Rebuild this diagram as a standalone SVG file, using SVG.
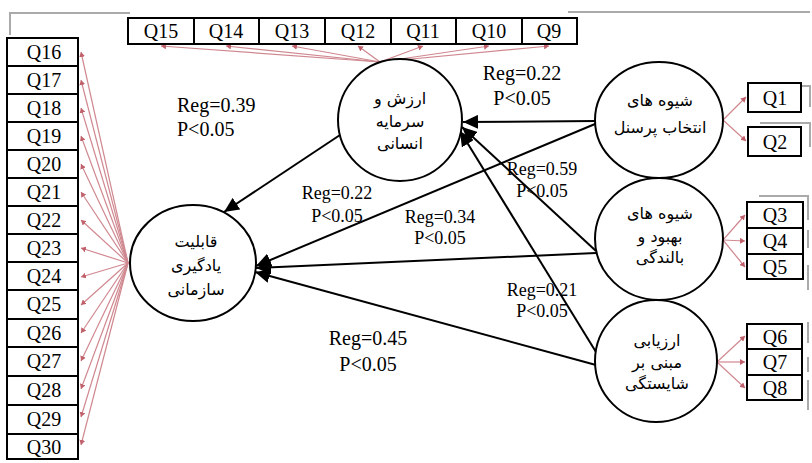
<svg xmlns="http://www.w3.org/2000/svg" width="812" height="463" viewBox="0 0 812 463">
<style>
.box{fill:#fff;stroke:#000;stroke-width:2}
.q{font-family:"Liberation Serif",serif;font-size:20px;text-anchor:middle;fill:#000}
.reg{font-family:"Liberation Serif",serif;font-size:18px;text-anchor:middle;fill:#000}
.reg20{font-family:"Liberation Serif",serif;font-size:20px;fill:#000}
.fa{font-family:"DejaVu Sans",sans-serif;font-size:16px;text-anchor:middle;fill:#000}
.node{fill:#fff;stroke:#000;stroke-width:2}
.arr{stroke:#000;stroke-width:2;fill:none;marker-end:url(#ah)}
.red{stroke:#d08890;stroke-width:1.2;fill:none;marker-end:url(#rh)}
.gray{stroke:#aaa;stroke-width:2;fill:none}
</style>
<defs>
<marker id="ah" markerUnits="userSpaceOnUse" markerWidth="18" markerHeight="14" refX="15" refY="7" orient="auto"><path d="M0,0 L15,7 L0,14 z" fill="#000"/></marker>
<marker id="rh" markerUnits="userSpaceOnUse" markerWidth="6" markerHeight="6" refX="5" refY="3" orient="auto"><path d="M0,0 L5,3 L0,6 z" fill="#c0606a"/></marker>
</defs>

<g id="frame">
<path class="gray" d="M10,35 V13 H130"/>
<path class="gray" d="M568,12 H810"/>
<path class="gray" d="M801,86 H810 V107"/>
<path class="gray" d="M760,123 H810 V147"/>
<path class="gray" d="M759,196 H808 V220"/>
<path class="gray" d="M808,230 V248 M808,265 V290"/>
<path class="gray" d="M808,322 V343 M808,357 V372 M808,380 V410"/>
</g>

<g id="connectors">
<g id="indicator-links">
<line class="red" x1="128" y1="263" x2="81" y2="52"/>
<line class="red" x1="128" y1="263" x2="81" y2="80"/>
<line class="red" x1="128" y1="263" x2="81" y2="108"/>
<line class="red" x1="128" y1="263" x2="81" y2="136"/>
<line class="red" x1="128" y1="263" x2="81" y2="164"/>
<line class="red" x1="128" y1="263" x2="81" y2="192"/>
<line class="red" x1="128" y1="263" x2="81" y2="220"/>
<line class="red" x1="128" y1="263" x2="81" y2="248"/>
<line class="red" x1="128" y1="263" x2="81" y2="277"/>
<line class="red" x1="128" y1="263" x2="81" y2="305"/>
<line class="red" x1="128" y1="263" x2="81" y2="333"/>
<line class="red" x1="128" y1="263" x2="81" y2="361"/>
<line class="red" x1="128" y1="263" x2="81" y2="389"/>
<line class="red" x1="128" y1="263" x2="81" y2="417"/>
<line class="red" x1="128" y1="263" x2="81" y2="445"/>
<line class="red" x1="380" y1="62" x2="161" y2="46"/>
<line class="red" x1="380" y1="62" x2="226" y2="46"/>
<line class="red" x1="380" y1="62" x2="292" y2="46"/>
<line class="red" x1="380" y1="62" x2="358" y2="46"/>
<line class="red" x1="380" y1="62" x2="423" y2="46"/>
<line class="red" x1="380" y1="62" x2="489" y2="46"/>
<line class="red" x1="380" y1="62" x2="549" y2="46"/>
<line class="red" x1="723" y1="120" x2="746" y2="97"/>
<line class="red" x1="723" y1="120" x2="746" y2="141"/>
<line class="red" x1="723" y1="240" x2="745" y2="215"/>
<line class="red" x1="723" y1="240" x2="745" y2="241"/>
<line class="red" x1="723" y1="240" x2="745" y2="267"/>
<line class="red" x1="717" y1="362" x2="745" y2="336"/>
<line class="red" x1="717" y1="362" x2="745" y2="362"/>
<line class="red" x1="717" y1="362" x2="745" y2="388"/>
</g>
<g id="paths">
<line class="arr" x1="340" y1="135" x2="224" y2="212"/>
<line class="arr" x1="596" y1="121" x2="463" y2="122"/>
<line class="arr" x1="595" y1="124" x2="256" y2="266"/>
<line class="arr" x1="596" y1="251" x2="462" y2="127"/>
<line class="arr" x1="596" y1="352" x2="460" y2="131"/>
<line class="arr" x1="596" y1="253" x2="256" y2="268"/>
<line class="arr" x1="596" y1="365" x2="255" y2="272"/>
</g>
</g>

<g id="labels">
<text class="reg20" x="177" y="112">Reg=0.39</text>
<text class="reg20" x="177" y="136">P&lt;0.05</text>
<text class="reg20" x="522" y="80" text-anchor="middle">Reg=0.22</text>
<text class="reg20" x="522" y="105" text-anchor="middle">P&lt;0.05</text>
<text class="reg" x="337" y="199">Reg=0.22</text>
<text class="reg" x="337" y="222">P&lt;0.05</text>
<text class="reg" x="542" y="175">Reg=0.59</text>
<text class="reg" x="542" y="197">P&lt;0.05</text>
<text class="reg" x="440" y="223">Reg=0.34</text>
<text class="reg" x="440" y="244">P&lt;0.05</text>
<text class="reg" x="542" y="296">Reg=0.21</text>
<text class="reg" x="542" y="317">P&lt;0.05</text>
<text class="reg20" x="368" y="345" text-anchor="middle">Reg=0.45</text>
<text class="reg20" x="368" y="371" text-anchor="middle">P&lt;0.05</text>
</g>

<g id="node-learning">
<ellipse class="node" cx="193" cy="263" rx="63" ry="58"/>
<text class="fa" x="196" y="247">قابلیت</text>
<text class="fa" x="196" y="271">یادگیری</text>
<text class="fa" x="196" y="295">سازمانی</text>
</g>
<g id="node-capital">
<ellipse class="node" cx="400" cy="120" rx="62" ry="61"/>
<text class="fa" x="400" y="104">ارزش و</text>
<text class="fa" x="400" y="127">سرمایه</text>
<text class="fa" x="400" y="149">انسانی</text>
</g>
<g id="node-selection">
<ellipse class="node" cx="659" cy="120" rx="64" ry="58"/>
<text class="fa" x="660" y="106">شیوه های</text>
<text class="fa" x="660" y="133">انتخاب پرسنل</text>
</g>
<g id="node-development">
<ellipse class="node" cx="659" cy="239" rx="64" ry="61"/>
<text class="fa" x="660" y="219">شیوه های</text>
<text class="fa" x="660" y="242">بهبود و</text>
<text class="fa" x="660" y="263">بالندگی</text>
</g>
<g id="node-appraisal">
<ellipse class="node" cx="656" cy="361" rx="61" ry="61"/>
<text class="fa" x="657" y="346">ارزیابی</text>
<text class="fa" x="657" y="368">مبنی بر</text>
<text class="fa" x="657" y="389">شایستگی</text>
</g>

<g id="items-top">
<rect class="box" x="128" y="18" width="66" height="26"/><text class="q" x="161" y="38">Q15</text>
<rect class="box" x="194" y="18" width="65" height="26"/><text class="q" x="226" y="38">Q14</text>
<rect class="box" x="259" y="18" width="66" height="26"/><text class="q" x="292" y="38">Q13</text>
<rect class="box" x="325" y="18" width="66" height="26"/><text class="q" x="358" y="38">Q12</text>
<rect class="box" x="391" y="18" width="65" height="26"/><text class="q" x="423" y="38">Q11</text>
<rect class="box" x="456" y="18" width="66" height="26"/><text class="q" x="489" y="38">Q10</text>
<rect class="box" x="522" y="18" width="55" height="26"/><text class="q" x="549" y="38">Q9</text>
</g>

<g id="items-left">
<rect class="box" x="7" y="38" width="71" height="28"/><text class="q" x="44" y="59">Q16</text>
<rect class="box" x="7" y="66" width="71" height="28"/><text class="q" x="44" y="87">Q17</text>
<rect class="box" x="7" y="94" width="71" height="28"/><text class="q" x="44" y="115">Q18</text>
<rect class="box" x="7" y="122" width="71" height="28"/><text class="q" x="44" y="143">Q19</text>
<rect class="box" x="7" y="150" width="71" height="28"/><text class="q" x="44" y="171">Q20</text>
<rect class="box" x="7" y="178" width="71" height="28"/><text class="q" x="44" y="199">Q21</text>
<rect class="box" x="7" y="206" width="71" height="28"/><text class="q" x="44" y="227">Q22</text>
<rect class="box" x="7" y="234" width="71" height="28"/><text class="q" x="44" y="255">Q23</text>
<rect class="box" x="7" y="262" width="71" height="28"/><text class="q" x="44" y="283">Q24</text>
<rect class="box" x="7" y="290" width="71" height="29"/><text class="q" x="44" y="311">Q25</text>
<rect class="box" x="7" y="319" width="71" height="28"/><text class="q" x="44" y="340">Q26</text>
<rect class="box" x="7" y="347" width="71" height="29"/><text class="q" x="44" y="368">Q27</text>
<rect class="box" x="7" y="376" width="71" height="29"/><text class="q" x="44" y="397">Q28</text>
<rect class="box" x="7" y="405" width="71" height="29"/><text class="q" x="44" y="426">Q29</text>
<rect class="box" x="7" y="434" width="71" height="25"/><text class="q" x="44" y="454">Q30</text>
</g>

<g id="items-right">
<rect class="box" x="748" y="83" width="53" height="29"/><text class="q" x="775" y="105">Q1</text>
<rect class="box" x="748" y="127" width="53" height="29"/><text class="q" x="775" y="149">Q2</text>
<rect class="box" x="747" y="202" width="56" height="26"/><text class="q" x="775" y="222">Q3</text>
<rect class="box" x="747" y="228" width="56" height="26"/><text class="q" x="775" y="248">Q4</text>
<rect class="box" x="747" y="254" width="56" height="25"/><text class="q" x="775" y="274">Q5</text>
<rect class="box" x="747" y="324" width="55" height="25"/><text class="q" x="775" y="344">Q6</text>
<rect class="box" x="747" y="349" width="55" height="26"/><text class="q" x="775" y="369">Q7</text>
<rect class="box" x="747" y="375" width="55" height="25"/><text class="q" x="775" y="395">Q8</text>
</g>
</svg>
